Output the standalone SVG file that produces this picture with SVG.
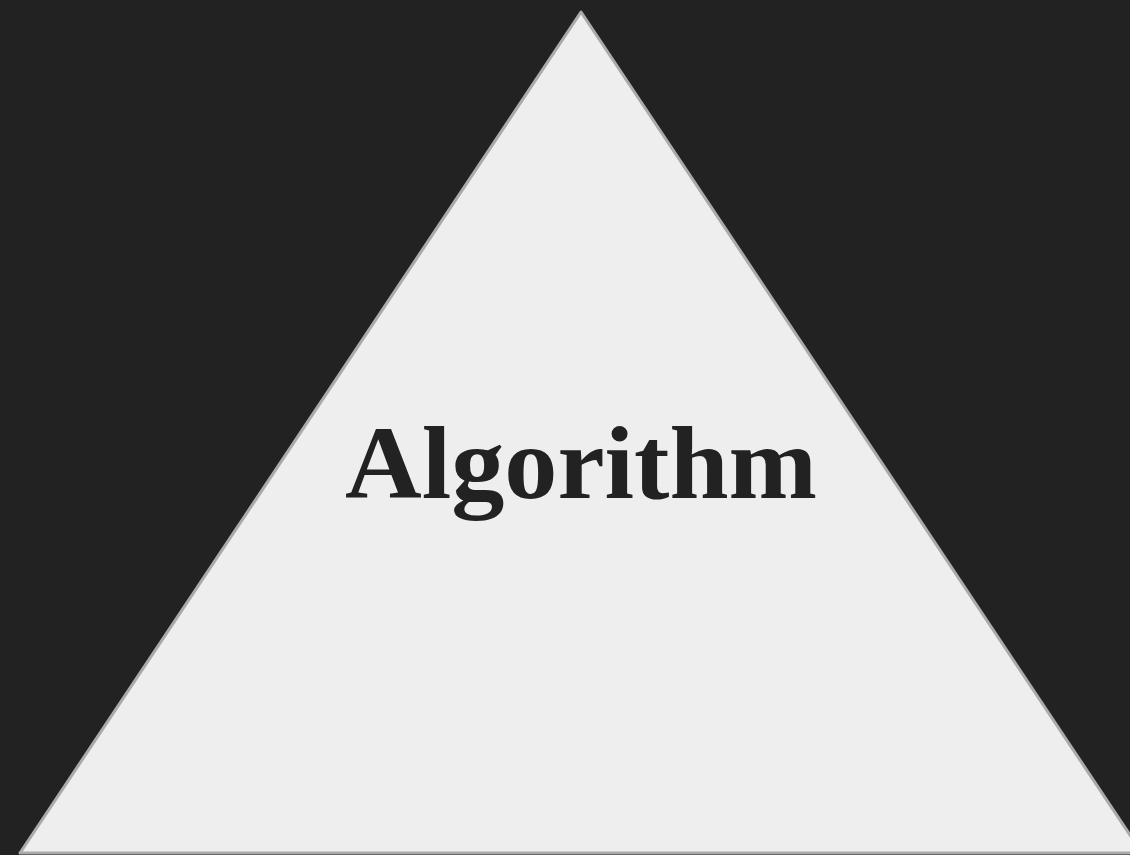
<svg xmlns="http://www.w3.org/2000/svg" width="1130" height="855" viewBox="0 0 1130 855">
<style>
.bg{fill:#222222}
.tri{fill:#eeeeee;stroke:#aaaaaa;stroke-width:3;stroke-linejoin:round}
.lbl{font-family:"Liberation Serif","DejaVu Serif",serif;font-weight:bold;font-size:104px;fill:#222222}
</style>
<rect class="bg" x="0" y="0" width="1130" height="855"/>
<g id="node-algorithm">
<polygon class="tri" points="581,12 20,853 1142,853"/>
<text class="lbl" x="581" y="498" text-anchor="middle" textLength="472" lengthAdjust="spacingAndGlyphs">Algorithm</text>
</g>
<g id="connectors"></g>
</svg>
